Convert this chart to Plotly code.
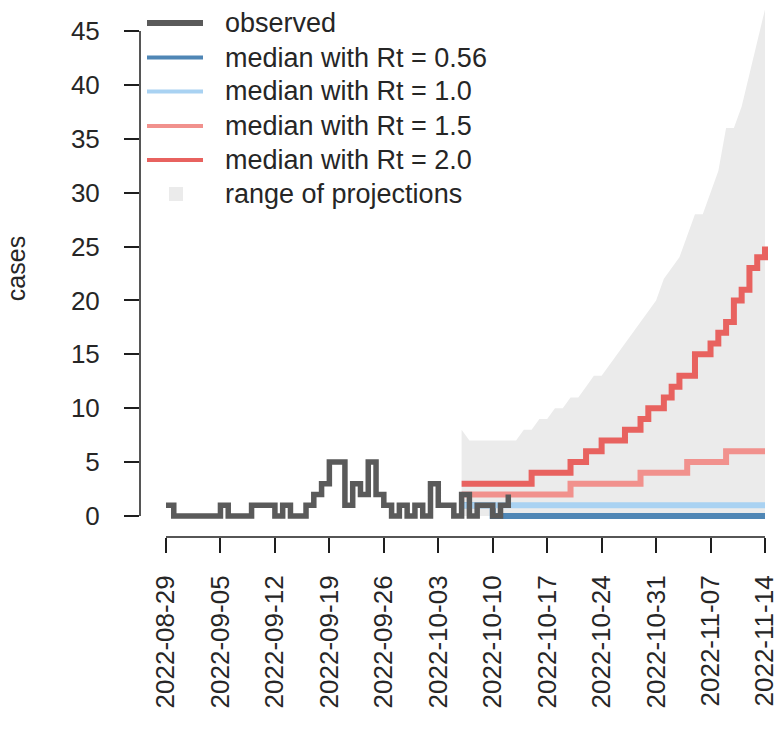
import pandas as pd
import plotly.graph_objects as go

# ---------------- data ----------------
obs_start = "2022-08-29"
observed = [1, 0, 0, 0, 0, 0, 0, 1, 0, 0, 0, 1, 1, 1, 0, 1, 0, 0, 1, 2, 3, 5, 5, 1,
            3, 2, 5, 2, 1, 0, 1, 0, 1, 0, 3, 1, 1, 0, 2, 0, 1, 1, 0, 1, 2]

proj_start = "2022-10-06"
median_rt056 = [1, 1, 1, 1, 0, 0, 0, 0, 0, 0, 0, 0, 0, 0, 0, 0, 0, 0, 0, 0,
                0, 0, 0, 0, 0, 0, 0, 0, 0, 0, 0, 0, 0, 0, 0, 0, 0, 0, 0, 0]
median_rt10 = [1, 1, 1, 1, 1, 1, 1, 1, 1, 1, 1, 1, 1, 1, 1, 1, 1, 1, 1, 1,
               1, 1, 1, 1, 1, 1, 1, 1, 1, 1, 1, 1, 1, 1, 1, 1, 1, 1, 1, 1]
median_rt15 = [2, 2, 2, 2, 2, 2, 2, 2, 2, 2, 2, 2, 2, 2, 3, 3, 3, 3, 3, 3,
               3, 3, 3, 4, 4, 4, 4, 4, 4, 5, 5, 5, 5, 5, 6, 6, 6, 6, 6, 6]
median_rt20 = [3, 3, 3, 3, 3, 3, 3, 3, 3, 4, 4, 4, 4, 4, 5, 5, 6, 6, 7, 7,
               7, 8, 8, 9, 10, 10, 11, 12, 13, 13, 15, 15, 16, 17, 18, 20, 21, 23, 24, 25]
range_upper = [8, 7, 7, 7, 7, 7, 7, 7, 8, 8, 9, 9, 10, 10, 11, 11, 12, 13, 13, 14,
               15, 16, 17, 18, 19, 20, 22, 23, 24, 26, 28, 28, 30, 32, 36, 36, 38, 41, 44, 47]
range_lower = [0, 0, 0, 0, 0, 0, 0, 0, 0, 0, 0, 0, 0, 0, 0, 0, 0, 0, 0, 0,
               0, 0, 0, 0, 0, 0, 0, 0, 0, 0, 0, 0, 0, 0, 0, 0, 0, 0, 0, 0]

tick_labels = ["2022-08-29", "2022-09-05", "2022-09-12", "2022-09-19", "2022-09-26",
               "2022-10-03", "2022-10-10", "2022-10-17", "2022-10-24", "2022-10-31",
               "2022-11-07", "2022-11-14"]
y_ticks = [0, 5, 10, 15, 20, 25, 30, 35, 40, 45]

legend_labels = ["observed", "median with Rt = 0.56", "median with Rt = 1.0",
                 "median with Rt = 1.5", "median with Rt = 2.0", "range of projections"]

# ---------------- styles ----------------
C_OBS = "#5a5a5a"
C_056 = "#4f86b5"
C_10 = "#a9d2f2"
C_15 = "#f1918d"
C_20 = "#e8625f"
C_RANGE = "#ebebeb"
TXT = "#262626"
AX = "#1e1e1e"
FONT = "Liberation Sans, Arial, sans-serif"

obs_dates = pd.date_range(obs_start, periods=len(observed), freq="D")
proj_dates = pd.date_range(proj_start, periods=len(median_rt20), freq="D")

fig = go.Figure()

# range of projections (lower then upper filled)
fig.add_trace(go.Scatter(x=proj_dates, y=range_lower, mode="lines",
                         line=dict(width=0, color=C_RANGE), showlegend=False,
                         hoverinfo="skip"))
fig.add_trace(go.Scatter(x=proj_dates, y=range_upper, mode="lines", fill="tonexty",
                         fillcolor=C_RANGE, line=dict(width=0, color=C_RANGE),
                         name=legend_labels[5], showlegend=False))

for vals, col, name in [(median_rt056, C_056, legend_labels[1]),
                        (median_rt10, C_10, legend_labels[2]),
                        (median_rt15, C_15, legend_labels[3]),
                        (median_rt20, C_20, legend_labels[4])]:
    fig.add_trace(go.Scatter(x=proj_dates, y=vals, mode="lines", name=name,
                             line=dict(color=col, width=6, shape="hv"),
                             showlegend=False))

fig.add_trace(go.Scatter(x=obs_dates, y=observed, mode="lines", name=legend_labels[0],
                         line=dict(color=C_OBS, width=5.5, shape="hv"),
                         showlegend=False))

# ---------------- layout geometry ----------------
W, H = 779, 734
L, R, T, B = 140, 0, 0, 197
PW, PH = W - L - R, H - T - B


def px_x(px):
    return (px - L) / PW


def px_y(py):
    return (H - B - py) / PH


shapes = [
    # y axis line (only over tick range)
    dict(type="line", xref="paper", yref="y", x0=0, x1=0, y0=y_ticks[0], y1=y_ticks[-1],
         line=dict(color=AX, width=1.5)),
    # x axis line (only over tick range)
    dict(type="line", xref="x", yref="paper", x0=tick_labels[0], x1=tick_labels[-1],
         y0=0, y1=0, line=dict(color=AX, width=1.5)),
]

annotations = []
row_y = [23, 57.5, 91.5, 126, 160, 194]
leg_styles = [(C_OBS, 6), (C_056, 4), (C_10, 4), (C_15, 4), (C_20, 4)]
for i, lab in enumerate(legend_labels):
    y = px_y(row_y[i])
    if i < 5:
        col, w = leg_styles[i]
        shapes.append(dict(type="line", xref="paper", yref="paper",
                           x0=px_x(147), x1=px_x(203), y0=y, y1=y,
                           line=dict(color=col, width=w)))
    else:
        shapes.append(dict(type="rect", xref="paper", yref="paper",
                           x0=px_x(169), x1=px_x(183), y0=px_y(row_y[i] + 7),
                           y1=px_y(row_y[i] - 7), fillcolor=C_RANGE,
                           line=dict(width=0)))
    annotations.append(dict(xref="paper", yref="paper", x=px_x(223), y=y, text=lab,
                            showarrow=False, xanchor="left", yanchor="middle",
                            font=dict(family=FONT, size=27, color=TXT)))

fig.update_layout(
    width=W, height=H,
    margin=dict(l=L, r=R, t=T, b=B, pad=0),
    paper_bgcolor="white", plot_bgcolor="white",
    showlegend=False,
    shapes=shapes,
    annotations=annotations,
    font=dict(family=FONT, size=26, color=TXT),
)

fig.update_xaxes(
    type="date",
    range=["2022-08-25 15:48", "2022-11-15 19:12"],
    tickmode="array", tickvals=tick_labels, ticktext=tick_labels,
    tickangle=-90,
    ticks="outside", ticklen=15, tickwidth=1.5, tickcolor=AX,
    ticklabelstandoff=12,
    ticklabeloverflow="allow",
    automargin=False,
    tickfont=dict(family=FONT, size=26, color=TXT),
    showgrid=False, zeroline=False, showline=False,
)

fig.update_yaxes(
    range=[-1.95, 47.87],
    tickmode="array", tickvals=y_ticks, ticktext=[str(v) for v in y_ticks],
    ticks="outside", ticklen=15, tickwidth=1.5, tickcolor=AX,
    ticklabelstandoff=19,
    automargin=False,
    tickfont=dict(family=FONT, size=26, color=TXT),
    title=dict(text="cases", font=dict(family=FONT, size=25, color=TXT), standoff=38),
    showgrid=False, zeroline=False, showline=False,
)

fig.write_html("out.html")
